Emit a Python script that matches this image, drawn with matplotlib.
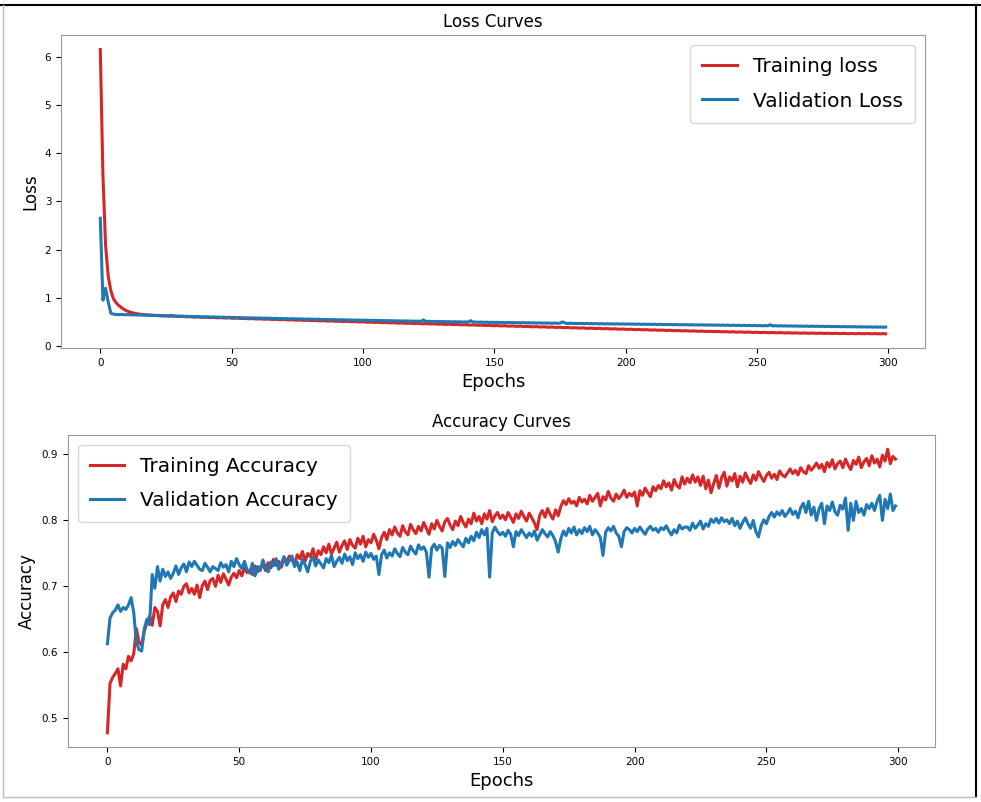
import numpy as np
import matplotlib.pyplot as plt
from matplotlib.lines import Line2D

train_loss = [
    6.15, 3.55, 2.10, 1.45, 1.15, 0.98, 0.90, 0.84, 0.80, 0.76,
    0.73, 0.71, 0.69, 0.68, 0.67, 0.66, 0.655, 0.65, 0.645, 0.64,
    0.638, 0.632, 0.635, 0.628, 0.625, 0.627, 0.620, 0.618, 0.621, 0.614,
    0.612, 0.615, 0.608, 0.606, 0.609, 0.602, 0.600, 0.604, 0.597, 0.595,
    0.598, 0.592, 0.590, 0.594, 0.587, 0.585, 0.589, 0.582, 0.580, 0.584,
    0.577, 0.575, 0.579, 0.572, 0.570, 0.574, 0.567, 0.565, 0.569, 0.562,
    0.560, 0.564, 0.557, 0.555, 0.559, 0.552, 0.550, 0.554, 0.547, 0.545,
    0.549, 0.542, 0.540, 0.544, 0.537, 0.536, 0.540, 0.532, 0.531, 0.535,
    0.528, 0.526, 0.530, 0.523, 0.522, 0.526, 0.518, 0.517, 0.521, 0.514,
    0.512, 0.516, 0.509, 0.508, 0.512, 0.504, 0.503, 0.507, 0.500, 0.498,
    0.502, 0.495, 0.493, 0.497, 0.490, 0.489, 0.493, 0.485, 0.484, 0.488,
    0.481, 0.479, 0.483, 0.476, 0.475, 0.479, 0.471, 0.470, 0.474, 0.467,
    0.466, 0.470, 0.462, 0.461, 0.465, 0.458, 0.457, 0.461, 0.453, 0.452,
    0.456, 0.449, 0.448, 0.452, 0.445, 0.444, 0.448, 0.440, 0.439, 0.443,
    0.436, 0.435, 0.439, 0.431, 0.430, 0.434, 0.427, 0.426, 0.430, 0.422,
    0.421, 0.425, 0.418, 0.417, 0.421, 0.413, 0.412, 0.416, 0.409, 0.408,
    0.412, 0.404, 0.403, 0.407, 0.400, 0.399, 0.403, 0.395, 0.394, 0.398,
    0.391, 0.390, 0.394, 0.386, 0.385, 0.389, 0.382, 0.381, 0.385, 0.377,
    0.376, 0.380, 0.373, 0.372, 0.376, 0.368, 0.367, 0.371, 0.364, 0.363,
    0.367, 0.359, 0.358, 0.362, 0.355, 0.354, 0.358, 0.350, 0.349, 0.353,
    0.346, 0.345, 0.349, 0.341, 0.340, 0.344, 0.337, 0.336, 0.340, 0.332,
    0.331, 0.335, 0.328, 0.327, 0.331, 0.323, 0.322, 0.326, 0.319, 0.318,
    0.322, 0.315, 0.314, 0.318, 0.311, 0.310, 0.314, 0.307, 0.306, 0.310,
    0.303, 0.302, 0.306, 0.300, 0.299, 0.303, 0.296, 0.295, 0.299, 0.293,
    0.292, 0.296, 0.289, 0.288, 0.292, 0.286, 0.285, 0.289, 0.283, 0.282,
    0.286, 0.280, 0.279, 0.283, 0.277, 0.276, 0.280, 0.274, 0.274, 0.278,
    0.272, 0.271, 0.275, 0.270, 0.269, 0.273, 0.267, 0.267, 0.271, 0.265,
    0.265, 0.269, 0.263, 0.263, 0.267, 0.262, 0.261, 0.265, 0.260, 0.260,
    0.264, 0.258, 0.258, 0.262, 0.257, 0.257, 0.261, 0.256, 0.256, 0.260,
    0.255, 0.255, 0.259, 0.254, 0.254, 0.258, 0.253, 0.253, 0.257, 0.252,
]

val_loss = [
    2.65, 0.95, 1.20, 0.92, 0.68, 0.66, 0.655, 0.65, 0.655, 0.65,
    0.648, 0.652, 0.645, 0.648, 0.642, 0.645, 0.638, 0.641, 0.635, 0.638,
    0.632, 0.635, 0.628, 0.631, 0.625, 0.628, 0.622, 0.640, 0.619, 0.622,
    0.616, 0.620, 0.613, 0.617, 0.610, 0.614, 0.607, 0.611, 0.604, 0.609,
    0.602, 0.606, 0.599, 0.604, 0.596, 0.601, 0.594, 0.598, 0.591, 0.596,
    0.589, 0.593, 0.586, 0.591, 0.584, 0.588, 0.581, 0.586, 0.579, 0.583,
    0.577, 0.581, 0.574, 0.579, 0.572, 0.576, 0.570, 0.574, 0.567, 0.572,
    0.565, 0.569, 0.563, 0.567, 0.560, 0.565, 0.558, 0.562, 0.556, 0.560,
    0.554, 0.558, 0.551, 0.556, 0.549, 0.553, 0.547, 0.551, 0.545, 0.549,
    0.542, 0.547, 0.540, 0.545, 0.538, 0.542, 0.536, 0.540, 0.534, 0.538,
    0.532, 0.536, 0.530, 0.534, 0.528, 0.532, 0.526, 0.530, 0.524, 0.528,
    0.522, 0.526, 0.520, 0.524, 0.518, 0.522, 0.516, 0.520, 0.514, 0.518,
    0.512, 0.517, 0.511, 0.540, 0.509, 0.513, 0.507, 0.511, 0.505, 0.509,
    0.504, 0.508, 0.502, 0.506, 0.500, 0.505, 0.499, 0.503, 0.497, 0.501,
    0.496, 0.525, 0.494, 0.498, 0.492, 0.497, 0.491, 0.495, 0.489, 0.493,
    0.488, 0.492, 0.486, 0.490, 0.484, 0.489, 0.483, 0.487, 0.481, 0.486,
    0.480, 0.484, 0.478, 0.483, 0.477, 0.481, 0.475, 0.480, 0.474, 0.478,
    0.473, 0.477, 0.471, 0.476, 0.470, 0.474, 0.500, 0.473, 0.467, 0.472,
    0.466, 0.470, 0.465, 0.469, 0.463, 0.468, 0.462, 0.466, 0.461, 0.465,
    0.459, 0.464, 0.458, 0.462, 0.457, 0.461, 0.455, 0.460, 0.454, 0.458,
    0.453, 0.457, 0.452, 0.456, 0.450, 0.455, 0.449, 0.453, 0.448, 0.452,
    0.447, 0.451, 0.445, 0.450, 0.444, 0.448, 0.443, 0.447, 0.441, 0.446,
    0.440, 0.444, 0.439, 0.443, 0.437, 0.442, 0.436, 0.440, 0.435, 0.439,
    0.434, 0.438, 0.432, 0.437, 0.431, 0.435, 0.430, 0.434, 0.428, 0.433,
    0.427, 0.431, 0.426, 0.430, 0.424, 0.429, 0.423, 0.427, 0.422, 0.426,
    0.421, 0.425, 0.419, 0.424, 0.418, 0.440, 0.417, 0.421, 0.415, 0.420,
    0.414, 0.418, 0.413, 0.417, 0.411, 0.416, 0.410, 0.414, 0.409, 0.413,
    0.407, 0.412, 0.406, 0.410, 0.405, 0.409, 0.403, 0.408, 0.402, 0.406,
    0.401, 0.405, 0.399, 0.404, 0.398, 0.402, 0.397, 0.401, 0.395, 0.400,
    0.394, 0.398, 0.393, 0.397, 0.391, 0.396, 0.390, 0.394, 0.389, 0.393,
]

train_acc = [
    0.478, 0.553, 0.562, 0.568, 0.575, 0.549, 0.582, 0.575, 0.594, 0.587,
    0.598, 0.636, 0.615, 0.611, 0.632, 0.645, 0.655, 0.641, 0.668, 0.662,
    0.640, 0.672, 0.680, 0.668, 0.684, 0.690, 0.677, 0.693, 0.688, 0.700,
    0.704, 0.690, 0.697, 0.688, 0.702, 0.683, 0.701, 0.708, 0.695, 0.709,
    0.712, 0.700, 0.717, 0.706, 0.719, 0.711, 0.702, 0.714, 0.720, 0.713,
    0.724, 0.716, 0.728, 0.721, 0.725, 0.718, 0.731, 0.722, 0.729, 0.734,
    0.724, 0.736, 0.728, 0.741, 0.732, 0.738, 0.729, 0.744, 0.737, 0.746,
    0.740, 0.733, 0.748, 0.742, 0.753, 0.738, 0.750, 0.745, 0.757, 0.741,
    0.754, 0.748, 0.760, 0.751, 0.764, 0.749, 0.758, 0.767, 0.752, 0.762,
    0.769, 0.756, 0.771, 0.762, 0.758, 0.773, 0.764, 0.776, 0.760, 0.771,
    0.766, 0.779, 0.770, 0.757, 0.774, 0.782, 0.771, 0.786, 0.778, 0.790,
    0.781, 0.776, 0.792, 0.783, 0.778, 0.794, 0.786, 0.780, 0.791, 0.784,
    0.797, 0.788, 0.779, 0.795, 0.787, 0.800, 0.791, 0.784, 0.798, 0.803,
    0.793, 0.786, 0.799, 0.792, 0.806, 0.797, 0.790, 0.802, 0.795, 0.811,
    0.799, 0.806, 0.795, 0.810, 0.802, 0.815, 0.798, 0.807, 0.812, 0.803,
    0.808, 0.801, 0.812, 0.805, 0.797, 0.810, 0.803, 0.814, 0.806, 0.799,
    0.811, 0.804, 0.796, 0.786, 0.808, 0.815, 0.805, 0.818, 0.809, 0.802,
    0.816, 0.807, 0.821, 0.830, 0.824, 0.833, 0.826, 0.829, 0.822, 0.835,
    0.828, 0.832, 0.825, 0.838, 0.829, 0.835, 0.841, 0.822, 0.836, 0.831,
    0.844, 0.834, 0.829, 0.840, 0.833, 0.838, 0.846, 0.835, 0.841, 0.837,
    0.843, 0.822, 0.845, 0.838, 0.849, 0.842, 0.836, 0.851, 0.845, 0.853,
    0.848, 0.860, 0.851, 0.857, 0.846, 0.862, 0.853, 0.849, 0.866, 0.855,
    0.864, 0.857, 0.869, 0.858, 0.866, 0.853, 0.867, 0.848, 0.861, 0.842,
    0.856, 0.868, 0.849, 0.865, 0.873, 0.852, 0.866, 0.860, 0.871, 0.851,
    0.867, 0.858, 0.872, 0.863, 0.856, 0.869, 0.861, 0.874, 0.866, 0.859,
    0.868, 0.873, 0.864, 0.870, 0.862, 0.875, 0.869, 0.866, 0.872, 0.878,
    0.871, 0.876, 0.869, 0.880, 0.874, 0.871, 0.883, 0.876, 0.881, 0.887,
    0.879, 0.885, 0.874, 0.888, 0.881, 0.892, 0.878, 0.886, 0.890, 0.880,
    0.893, 0.884, 0.877, 0.891, 0.885, 0.896, 0.880, 0.889, 0.894, 0.883,
    0.898, 0.887, 0.893, 0.881, 0.899, 0.890, 0.908, 0.886, 0.897, 0.893,
]

val_acc = [
    0.613, 0.652, 0.660, 0.664, 0.672, 0.662, 0.668, 0.665, 0.672, 0.683,
    0.660, 0.615, 0.604, 0.602, 0.636, 0.650, 0.642, 0.718, 0.697, 0.730,
    0.708, 0.726, 0.715, 0.722, 0.712, 0.720, 0.731, 0.718, 0.728, 0.734,
    0.722, 0.737, 0.730, 0.738, 0.732, 0.726, 0.724, 0.735, 0.729, 0.722,
    0.730, 0.727, 0.724, 0.736, 0.729, 0.733, 0.722, 0.738, 0.730, 0.742,
    0.733, 0.727, 0.738, 0.725, 0.720, 0.735, 0.716, 0.730, 0.724, 0.740,
    0.728, 0.722, 0.737, 0.731, 0.742, 0.726, 0.735, 0.745, 0.732, 0.739,
    0.746, 0.730, 0.737, 0.724, 0.741, 0.733, 0.722, 0.738, 0.745, 0.731,
    0.740, 0.734, 0.728, 0.742, 0.736, 0.747, 0.730, 0.738, 0.744, 0.735,
    0.749, 0.739, 0.745, 0.733, 0.751, 0.742, 0.748, 0.738, 0.752, 0.744,
    0.750, 0.741, 0.746, 0.718, 0.748, 0.755, 0.743, 0.751, 0.746, 0.757,
    0.750, 0.745, 0.759, 0.752, 0.748, 0.761, 0.754, 0.749, 0.763, 0.756,
    0.760, 0.752, 0.714, 0.758, 0.764, 0.755, 0.762, 0.758, 0.715, 0.766,
    0.759, 0.768, 0.762, 0.771, 0.765, 0.760, 0.773, 0.766, 0.776, 0.769,
    0.782, 0.774, 0.786, 0.778, 0.788, 0.714, 0.781, 0.790, 0.783, 0.778,
    0.782, 0.776, 0.785, 0.779, 0.760, 0.783, 0.777, 0.786, 0.780, 0.774,
    0.781, 0.776, 0.784, 0.770, 0.778, 0.786, 0.780, 0.775, 0.783, 0.777,
    0.768, 0.752, 0.772, 0.784, 0.777, 0.788, 0.781, 0.790, 0.778, 0.786,
    0.780, 0.789, 0.783, 0.791, 0.778, 0.786, 0.781, 0.774, 0.747, 0.782,
    0.789, 0.784, 0.791, 0.781, 0.776, 0.760, 0.783, 0.789, 0.786, 0.781,
    0.788, 0.783, 0.790, 0.784, 0.779, 0.787, 0.791, 0.785, 0.788, 0.782,
    0.789, 0.786, 0.792, 0.784, 0.778, 0.786, 0.781, 0.793, 0.787, 0.790,
    0.790, 0.785, 0.796, 0.788, 0.793, 0.799, 0.787, 0.795, 0.791, 0.802,
    0.797, 0.803, 0.796, 0.804, 0.798, 0.801, 0.795, 0.803, 0.792, 0.799,
    0.788, 0.797, 0.804, 0.795, 0.788, 0.800, 0.783, 0.775, 0.792, 0.801,
    0.795, 0.806, 0.812, 0.805, 0.813, 0.808, 0.815, 0.806, 0.811, 0.818,
    0.809, 0.814, 0.804, 0.819, 0.826, 0.812, 0.829, 0.808, 0.820, 0.800,
    0.818, 0.826, 0.795, 0.822, 0.815, 0.828, 0.813, 0.808, 0.823, 0.817,
    0.834, 0.785, 0.826, 0.800, 0.829, 0.812, 0.818, 0.808, 0.824, 0.818,
    0.826, 0.815, 0.829, 0.838, 0.800, 0.832, 0.818, 0.840, 0.815, 0.822,
]

epochs = np.arange(len(train_loss))

fig = plt.figure(figsize=(9.81, 8.02), dpi=100)
ax1 = fig.add_axes([0.0622, 0.566, 0.8807, 0.390])
ax2 = fig.add_axes([0.0693, 0.0686, 0.8838, 0.389])

leg_kw = dict(fontsize=14.5, labelspacing=0.75, borderpad=0.6, handlelength=1.7)

ax1.plot(epochs, train_loss, color='#d62728', linewidth=2.2, label='Training loss')
ax1.plot(epochs, val_loss, color='#1f77b4', linewidth=2.2, label='Validation Loss')
ax1.set_title('Loss Curves', fontsize=12)
ax1.set_xlabel('Epochs', fontsize=13)
ax1.set_ylabel('Loss', fontsize=12)
ax1.tick_params(labelsize=7.5)
ax1.legend(loc='upper right', **leg_kw)

ax2.plot(epochs, train_acc, color='#d62728', linewidth=2.2, label='Training Accuracy')
ax2.plot(epochs, val_acc, color='#1f77b4', linewidth=2.2, label='Validation Accuracy')
ax2.set_title('Accuracy Curves', fontsize=12)
ax2.set_xlabel('Epochs', fontsize=13)
ax2.set_ylabel('Accuracy', fontsize=12)
ax2.tick_params(labelsize=7.5)
ax2.legend(loc='upper left', **leg_kw)

for ax in (ax1, ax2):
    for s in ax.spines.values():
        s.set_color('#999999')

# screenshot frame
fig.add_artist(Line2D([0, 1], [0.994, 0.994], color='black', linewidth=1.5))
fig.add_artist(Line2D([0.995, 0.995], [0.008, 0.994], color='black', linewidth=1.5))
fig.add_artist(Line2D([0.003, 0.003], [0.006, 0.994], color='#bbbbbb', linewidth=1))
fig.add_artist(Line2D([0.003, 0.995], [0.006, 0.006], color='#bbbbbb', linewidth=1))

fig.savefig('out.png', dpi=100)
